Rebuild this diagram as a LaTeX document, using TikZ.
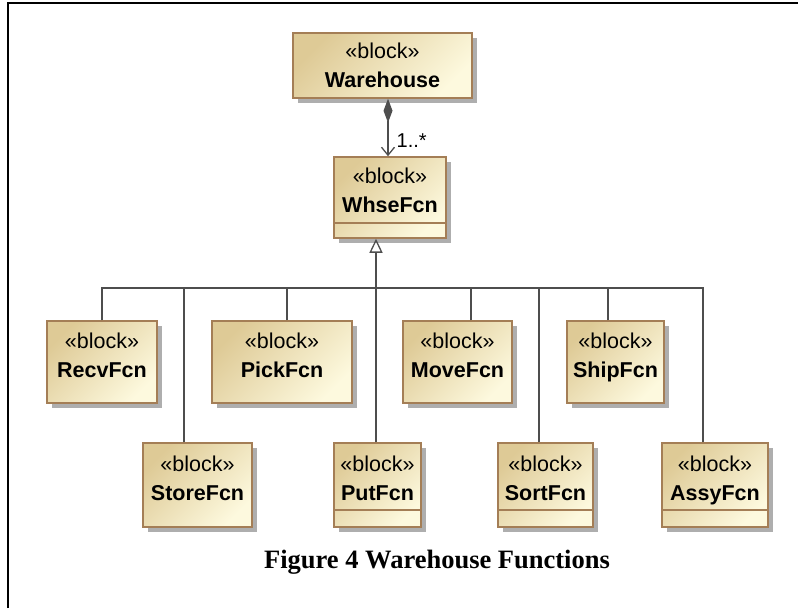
\documentclass[tikz,border=0pt]{standalone}
\usepackage{fontspec}
\setmainfont{Liberation Serif}
\setsansfont{Liberation Sans}
\usetikzlibrary{arrows.meta,shadows}

\definecolor{blkdark}{RGB}{222,202,150}
\definecolor{blklight}{RGB}{253,249,222}
\definecolor{blkedge}{RGB}{164,126,86}
\definecolor{conn}{RGB}{78,78,78}

\tikzset{
  blk/.style={rectangle, draw=blkedge, line width=1.5pt,
    top color=blkdark, bottom color=blklight, shading angle=45,
    drop shadow={shadow xshift=5pt, shadow yshift=-5pt, fill=black!45, opacity=0.7},
    inner sep=0pt, align=center, font=\sffamily\fontsize{21.5}{29}\selectfont},
  tall/.style={blk, text depth=14pt},
  blkline/.style={draw=blkedge, line width=1.5pt},
  tree/.style={draw=conn, line width=1.3pt},
  gen/.style={tree, -{Triangle[open, length=14pt, width=13pt]}},
  comp/.style={tree, {Diamond[length=24pt, width=9pt]}-{Straight Barb[length=8pt, width=13pt]}},
  mult/.style={font=\sffamily\fontsize{20}{22}\selectfont, inner sep=0pt},
  frame/.style={draw=black, line width=2pt}
}

\begin{document}
\begin{tikzpicture}[x=1pt, y=-1pt]
        \useasboundingbox (0,0) rectangle (798,608);
        \draw[frame] (8,608) -- (8,3) -- (798,3);

        \node[blk, minimum width=179pt, minimum height=65pt] (warehouse) at (382.5,65.5) {«block»\\\textbf{Warehouse}};
        \node[tall, minimum width=112pt, minimum height=81pt] (whse) at (390,197.5) {«block»\\\textbf{WhseFcn}};

        \node[tall, minimum width=110pt, minimum height=82pt] (recv) at (102,362) {«block»\\\textbf{RecvFcn}};
        \node[tall, minimum width=140pt, minimum height=82pt] (pick) at (282,362) {«block»\\\textbf{PickFcn}};
        \node[tall, minimum width=109pt, minimum height=82pt] (move) at (457.5,362) {«block»\\\textbf{MoveFcn}};
        \node[tall, minimum width=97pt, minimum height=82pt] (ship) at (615.5,362) {«block»\\\textbf{ShipFcn}};

        \node[tall, minimum width=109pt, minimum height=84pt] (store) at (197.5,485) {«block»\\\textbf{StoreFcn}};
        \node[tall, minimum width=87pt, minimum height=84pt] (put) at (377.5,485) {«block»\\\textbf{PutFcn}};
        \node[tall, minimum width=95pt, minimum height=84pt] (sort) at (545.5,485) {«block»\\\textbf{SortFcn}};
        \node[tall, minimum width=106pt, minimum height=84pt] (assy) at (715,485) {«block»\\\textbf{AssyFcn}};

        \draw[blkline] ([yshift=16pt]whse.south west) -- ([yshift=16pt]whse.south east);
        \draw[blkline] ([yshift=18pt]put.south west) -- ([yshift=18pt]put.south east);
        \draw[blkline] ([yshift=18pt]sort.south west) -- ([yshift=18pt]sort.south east);
        \draw[blkline] ([yshift=18pt]assy.south west) -- ([yshift=18pt]assy.south east);

        \coordinate (cx) at (388,0);
        \coordinate (bus) at (376,288);

        \draw[comp] (warehouse.south -| cx) -- (whse.north -| cx)
            node[mult, pos=0.85, anchor=base west, xshift=8pt] (mult) {1..*};

        \draw[gen] (bus) -- (whse.south -| bus);
        \draw[tree] (recv.north) |- (bus);
        \draw[tree] ([xshift=-13.5pt]store.north) |- (bus);
        \draw[tree] ([xshift=5pt]pick.north) |- (bus);
        \draw[tree] ([xshift=-1.5pt]put.north) -- (bus);
        \draw[tree] ([xshift=13.5pt]move.north) |- (bus);
        \draw[tree] ([xshift=-6.5pt]sort.north) |- (bus);
        \draw[tree] ([xshift=-7.5pt]ship.north) |- (bus);
        \draw[tree] ([xshift=-12pt]assy.north) |- (bus);

        \node[font=\rmfamily\bfseries\fontsize{26.5}{30}\selectfont, anchor=base] (caption) at (437,568) {Figure 4 Warehouse Functions};
    \end{tikzpicture}
\end{document}
